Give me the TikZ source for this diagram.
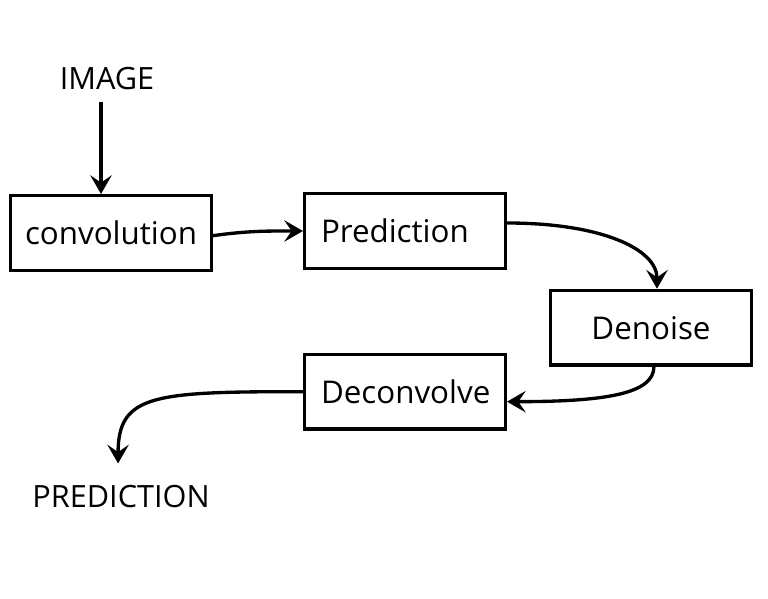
\documentclass[tikz,border=0pt]{standalone}
\usepackage{fontspec}
\setmainfont{Open Sans}
\usetikzlibrary{arrows.meta,positioning}
\tikzstyle{block} = [draw,line width=2.5pt,rectangle,inner sep=0,minimum width=150.5pt,minimum height=56pt,font=\fontsize{23.5}{27}\selectfont]
\tikzstyle{lblock} = [block,text width=126pt,align=left]
\tikzstyle{io} = [inner sep=0,font=\fontsize{23}{27}\selectfont]
\tikzstyle{flow} = [-{Stealth[length=14pt,width=16pt,inset=5.5pt]},line width=2.5pt]
\def \gap {67.5pt}

\begin{document}
\begin{tikzpicture}[x=0.75pt,y=0.75pt]
      \useasboundingbox (0,0) rectangle (768,-599);
      \node[block] (conv) at (111,-233) {convolution};
      \node[lblock,right=\gap of conv,yshift=1.5pt] (pred) {Prediction};
      \node[block,below right=14pt and 31.5pt of pred] (den) {Denoise};
      \node[lblock,below=62pt of pred] (dec) {Deconvolve};
      \node[io] (img) at (107,-79) {IMAGE};
      \node[io] (out) at (121,-497) {PREDICTION};
      \draw[flow] ([shift={(-4.5pt,-8.6pt)}]img.south) -- ([xshift=-4.5pt]img.south |- conv.north);
      \draw[flow] ([yshift=-2pt]conv.east) to[out=8,in=180] (pred.west);
      \draw[flow] ([yshift=6pt]pred.east) to[out=0,in=90,out distance=70pt,in distance=30pt] ([xshift=4.5pt]den.north);
      \draw[flow] ([xshift=2.2pt]den.south) to[out=-90,in=0,out distance=20pt,in distance=75pt] ([yshift=-7.5pt]dec.east);
      \draw[flow] (dec.west) to[out=180,in=90,out distance=112pt,in distance=52pt] ([shift={(-2.2pt,16.5pt)}]out.north);
    \end{tikzpicture}
\end{document}
